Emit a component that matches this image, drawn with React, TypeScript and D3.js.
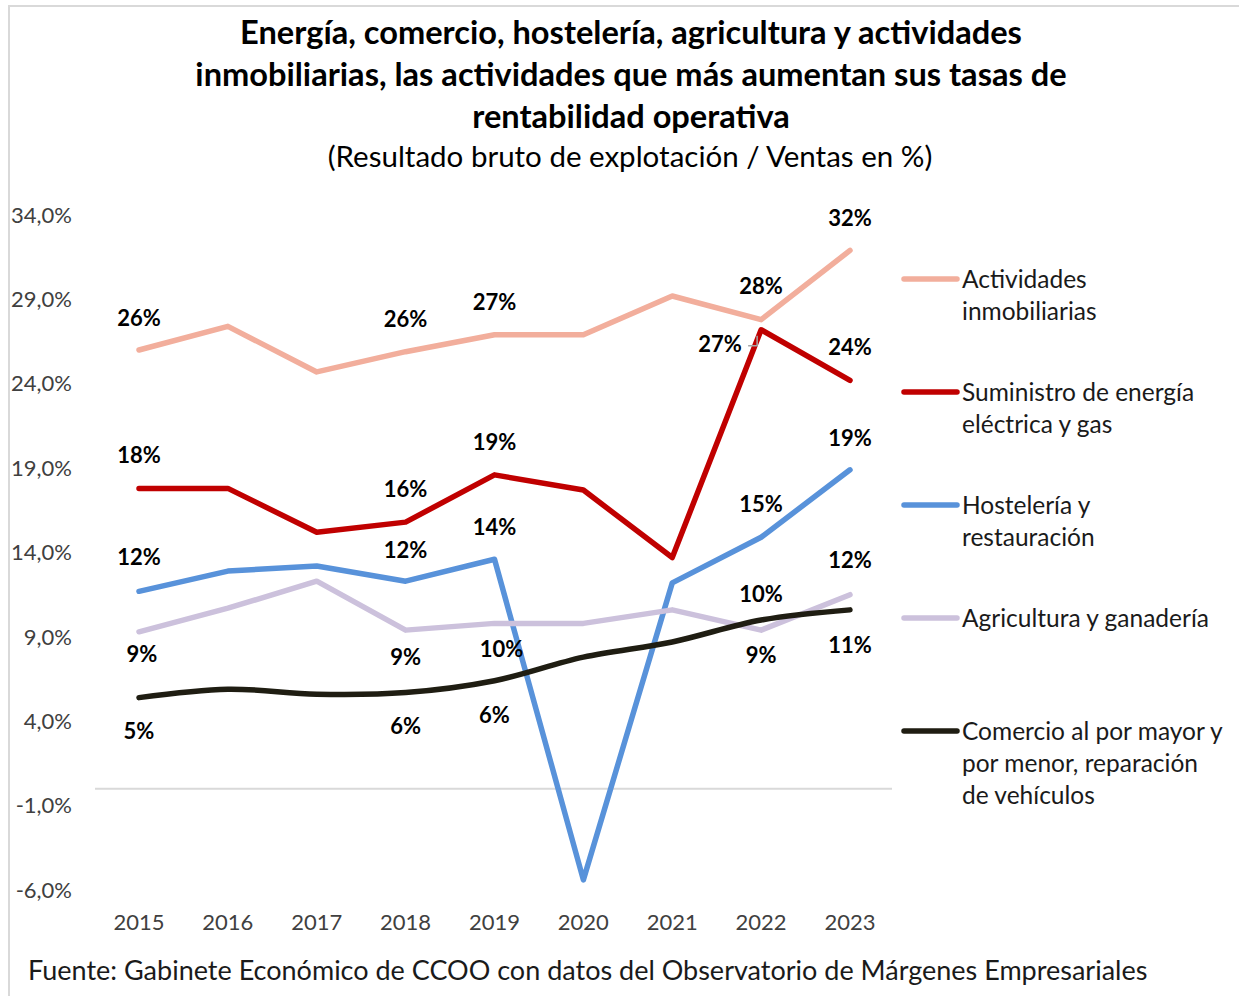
import React, { useEffect, useRef } from "react";
import * as d3 from "d3";

const years = ["2015", "2016", "2017", "2018", "2019", "2020", "2021", "2022", "2023"];
const yTicks = [-6, -1, 4, 9, 14, 19, 24, 29, 34];

const inmobiliarias = [26.0, 27.4, 24.7, 25.9, 26.9, 26.9, 29.2, 27.8, 31.9];
const energia = [17.8, 17.8, 15.2, 15.8, 18.6, 17.7, 13.7, 27.2, 24.2];
const hosteleria = [11.7, 12.9, 13.2, 12.3, 13.6, -5.4, 12.2, 14.9, 18.9];
const agricultura = [9.3, 10.7, 12.3, 9.4, 9.8, 9.8, 10.6, 9.4, 11.5];
const comercio = [5.4, 5.9, 5.6, 5.7, 6.4, 7.8, 8.7, 10.0, 10.6];

const seriesNames = [
  ["Actividades", "inmobiliarias"],
  ["Suministro de energía", "eléctrica y gas"],
  ["Hostelería y", "restauración"],
  ["Agricultura y ganadería"],
  ["Comercio al por mayor y", "por menor, reparación", "de vehículos"],
];
const seriesColors = ["#F2AE9C", "#C00000", "#5892DA", "#CCC1DC", "#1F1D12"];
const seriesValues = [inmobiliarias, energia, hosteleria, agricultura, comercio];

// which points carry a label: [series, year index, dx, dy]
const labelSpots: [number, number, number, number][] = [
  [0, 0, 0, -32], [0, 3, 0, -32], [0, 4, 0, -33], [0, 7, 0, -33], [0, 8, 0, -32],
  [1, 0, 0, -33], [1, 3, 0, -33], [1, 4, 0, -33], [1, 7, -41, 15], [1, 8, 0, -33],
  [2, 0, 0, -34], [2, 3, 0, -31], [2, 4, 0, -32], [2, 7, 0, -33], [2, 8, 0, -32],
  [3, 0, 3, 22], [3, 3, 0, 27], [3, 4, 7, 26], [3, 7, 0, 25], [3, 8, 0, -34],
  [4, 0, 0, 34], [4, 3, 0, 34], [4, 4, 0, 35], [4, 7, 0, -26], [4, 8, 0, 35],
];

const FONT = "Lato, 'Open Sans', sans-serif";

const App = () => {
  const ref = useRef<SVGSVGElement>(null);

  useEffect(() => {
    document.body.style.margin = "0";
    const svg = d3.select(ref.current);
    svg.selectAll("*").remove();

    svg.append("rect").attr("width", 1239).attr("height", 996).attr("fill", "#fff");
    svg.append("path")
      .attr("d", "M9,1000 V6 H1239")
      .attr("fill", "none")
      .attr("stroke", "#D9D9D9")
      .attr("stroke-width", 2);

    const x = d3.scalePoint().domain(years).range([139, 850]);
    const y = d3.scaleLinear().domain([-6, 34]).range([890, 215]);

    // title
    const titleLines = [
      "Energía, comercio, hostelería, agricultura y actividades",
      "inmobiliarias, las actividades que más aumentan sus tasas de",
      "rentabilidad operativa",
    ];
    svg.selectAll("text.title")
      .data(titleLines)
      .enter()
      .append("text")
      .attr("class", "title")
      .attr("x", 631)
      .attr("y", (d, i) => 44 + i * 42)
      .attr("text-anchor", "middle")
      .attr("font-family", FONT)
      .attr("font-weight", "bold")
      .attr("font-size", 32.6)
      .attr("fill", "#000")
      .text(d => d);
    svg.append("text")
      .attr("x", 630)
      .attr("y", 167)
      .attr("text-anchor", "middle")
      .attr("font-family", FONT)
      .attr("font-size", 29.5)
      .attr("fill", "#000")
      .text("(Resultado bruto de explotación / Ventas en %)");

    // zero line
    svg.append("line")
      .attr("x1", 95).attr("x2", 892)
      .attr("y1", y(0)).attr("y2", y(0))
      .attr("stroke", "#D9D9D9")
      .attr("stroke-width", 2);

    // y ticks
    svg.selectAll("text.ytick")
      .data(yTicks)
      .enter()
      .append("text")
      .attr("class", "ytick")
      .attr("x", 72)
      .attr("y", d => y(d))
      .attr("dy", "0.35em")
      .attr("text-anchor", "end")
      .attr("font-family", FONT)
      .attr("font-size", 22)
      .attr("fill", "#404040")
      .text(d => d3.format(".1f")(d).replace(".", ",").replace("\u2212", "-") + "%");

    // x ticks
    svg.selectAll("text.xtick")
      .data(years)
      .enter()
      .append("text")
      .attr("class", "xtick")
      .attr("x", d => x(d)!)
      .attr("y", 930)
      .attr("text-anchor", "middle")
      .attr("font-family", FONT)
      .attr("font-size", 22)
      .attr("fill", "#404040")
      .text(d => d);

    // lines
    seriesValues.forEach((vals, si) => {
      const line = d3.line<number>()
        .x((d, i) => x(years[i])!)
        .y(d => y(d))
        .curve(si === 4 ? d3.curveCatmullRom.alpha(0.5) : d3.curveLinear);
      svg.append("path")
        .datum(vals)
        .attr("d", line)
        .attr("fill", "none")
        .attr("stroke", seriesColors[si])
        .attr("stroke-width", 5.5)
        .attr("stroke-linecap", "round")
        .attr("stroke-linejoin", "round");
    });

    // leader line for energy 2022
    const lx = x("2022")!;
    const ly = y(energia[7]);
    svg.append("path")
      .attr("d", `M${lx - 13},${ly + 16} H${lx - 4} V${ly + 6}`)
      .attr("fill", "none")
      .attr("stroke", "#A6A6A6")
      .attr("stroke-width", 1.5);

    // data labels
    svg.selectAll("text.dlabel")
      .data(labelSpots)
      .enter()
      .append("text")
      .attr("class", "dlabel")
      .attr("x", d => x(years[d[1]])! + d[2])
      .attr("y", d => y(seriesValues[d[0]][d[1]]) + d[3])
      .attr("dy", "0.35em")
      .attr("text-anchor", "middle")
      .attr("font-family", FONT)
      .attr("font-weight", "bold")
      .attr("font-size", 22)
      .attr("fill", "#000")
      .text(d => Math.round(seriesValues[d[0]][d[1]]) + "%");

    // legend
    const legendY = [279, 392, 505, 618, 731];
    seriesNames.forEach((lines, si) => {
      const g = svg.append("g").attr("transform", `translate(0,${legendY[si]})`);
      g.append("line")
        .attr("x1", 904).attr("x2", 957)
        .attr("y1", 0).attr("y2", 0)
        .attr("stroke", seriesColors[si])
        .attr("stroke-width", 5.5)
        .attr("stroke-linecap", "round");
      g.selectAll("text")
        .data(lines)
        .enter()
        .append("text")
        .attr("x", 962)
        .attr("y", (d, i) => i * 32)
        .attr("dy", "0.35em")
        .attr("font-family", FONT)
        .attr("font-size", 24.5)
        .attr("fill", "#1a1a1a")
        .text(d => d);
    });

    // source
    svg.append("text")
      .attr("x", 28)
      .attr("y", 980)
      .attr("font-family", FONT)
      .attr("font-size", 27)
      .attr("fill", "#1a1a1a")
      .text("Fuente: Gabinete Económico de CCOO con datos del Observatorio de Márgenes Empresariales");
  }, []);

  return <svg ref={ref} width={1239} height={996} style={{ display: "block" }}></svg>;
};

export default App;
